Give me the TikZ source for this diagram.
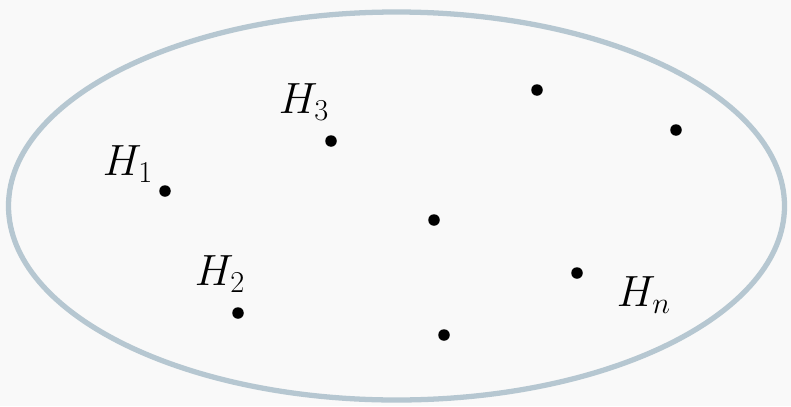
\documentclass[tikz,border=0pt]{standalone}
\definecolor{bgcol}{RGB}{249,249,249}
\definecolor{rimcol}{RGB}{182,199,209}
\tikzset{
	pt/.style={circle,fill=black,inner sep=0pt,minimum size=2.3mm},
	lab/.style={font=\fontsize{23}{27}\selectfont}
}
\begin{document}
\begin{tikzpicture}[x=0.02cm,y=-0.02cm,line join=round, line cap=round]
	\fill[bgcol] (0,0) rectangle (791,406);
	\useasboundingbox (0,0) rectangle (791,406);
	\draw[rimcol,line width=3pt] (396.5,206) ellipse [x radius=388,y radius=194];
	\node[pt] (h1) at (165,191) {};
	\node[pt] (h3) at (331,141) {};
	\node[pt] (p1) at (537,90) {};
	\node[pt] (p2) at (676,130) {};
	\node[pt] (p3) at (434,220) {};
	\node[pt] (h2) at (238,313) {};
	\node[pt] (hn) at (577,273) {};
	\node[pt] (p4) at (444,335) {};
	\node[lab] (l1) at (128,164) {$H_1$};
	\node[lab] (l3) at (304,102) {$H_3$};
	\node[lab] (l2) at (220,274) {$H_2$};
	\node[lab] (ln) at (644,295) {$H_n$};
\end{tikzpicture}
\end{document}
